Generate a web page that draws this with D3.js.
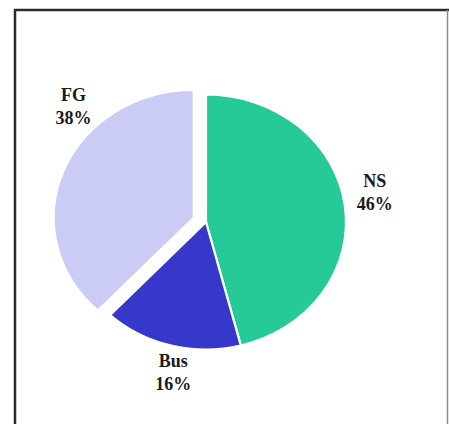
<!DOCTYPE html>
<html>
<head>
<meta charset="utf-8">
<script src="https://cdn.jsdelivr.net/npm/d3@7"></script>
<style>
  html, body { margin: 0; padding: 0; background: #ffffff; }
  svg { display: block; }
</style>
</head>
<body>
<svg id="chart" width="449" height="424"></svg>
<script>
// Share of trips by mode
const categories = ["NS", "Bus", "FG"];
const values = [46, 16, 38];
const percentLabels = ["46%", "16%", "38%"];

// Presentation settings
const colors = { NS: "#26c998", Bus: "#3538c8", FG: "#cbccf6" };
const explode = { NS: 0, Bus: 0, FG: 12 };
const labelNudge = { NS: [2, -16], Bus: [9, -3], FG: [36, -60] };

const W = 449, H = 424;
const cx = 206, cy = 222;
const ry = 127.5, rx = 140;
const sx = rx / ry;

const svg = d3.select("#chart");

// Frame
svg.append("line").attr("x1", 15).attr("x2", 15).attr("y1", 9).attr("y2", H + 5)
  .attr("stroke", "#2b2b2b").attr("stroke-width", 2.5);
svg.append("line").attr("x1", 14).attr("x2", W).attr("y1", 10).attr("y2", 10)
  .attr("stroke", "#2b2b2b").attr("stroke-width", 2.5);
svg.append("line").attr("x1", 447.5).attr("x2", 447.5).attr("y1", 10).attr("y2", H + 5)
  .attr("stroke", "#8a8a8a").attr("stroke-width", 1.5);

const rows = categories.map((c, i) => ({ cat: c, value: values[i], pct: percentLabels[i] }));

const pie = d3.pie().value(d => d.value).sort(null);
const arcs = pie(rows);
const arc = d3.arc().innerRadius(0).outerRadius(ry);

const g = svg.append("g").attr("transform", `translate(${cx},${cy}) scale(${sx},1)`);

g.selectAll("path.slice")
  .data(arcs)
  .join("path")
  .attr("class", "slice")
  .attr("transform", d => {
    const a = (d.startAngle + d.endAngle) / 2;
    const o = explode[d.data.cat];
    return `translate(${Math.sin(a) * o},${-Math.cos(a) * o})`;
  })
  .attr("d", arc)
  .attr("fill", d => colors[d.data.cat])
  .attr("stroke", "#ffffff")
  .attr("stroke-width", 2)
  .attr("stroke-linejoin", "round");

// Labels on an outer ellipse at each slice's mid angle
const lbl = svg.append("g")
  .attr("font-family", "'Liberation Serif', 'Times New Roman', serif")
  .attr("font-weight", "bold")
  .attr("font-size", 18)
  .attr("fill", "#1a1a1a")
  .attr("text-anchor", "middle");

arcs.forEach(d => {
  const a = (d.startAngle + d.endAngle) / 2;
  const o = explode[d.data.cat];
  const ox = cx + Math.sin(a) * o * sx, oy = cy - Math.cos(a) * o;
  const n = labelNudge[d.data.cat];
  const x = ox + Math.sin(a) * rx * 1.2 + n[0];
  const y = oy - Math.cos(a) * ry * 1.2 + n[1];
  const t = lbl.append("text").attr("x", x).attr("y", y);
  t.append("tspan").attr("x", x).text(d.data.cat);
  t.append("tspan").attr("x", x).attr("dy", 23).text(d.data.pct);
});
</script>
</body>
</html>
